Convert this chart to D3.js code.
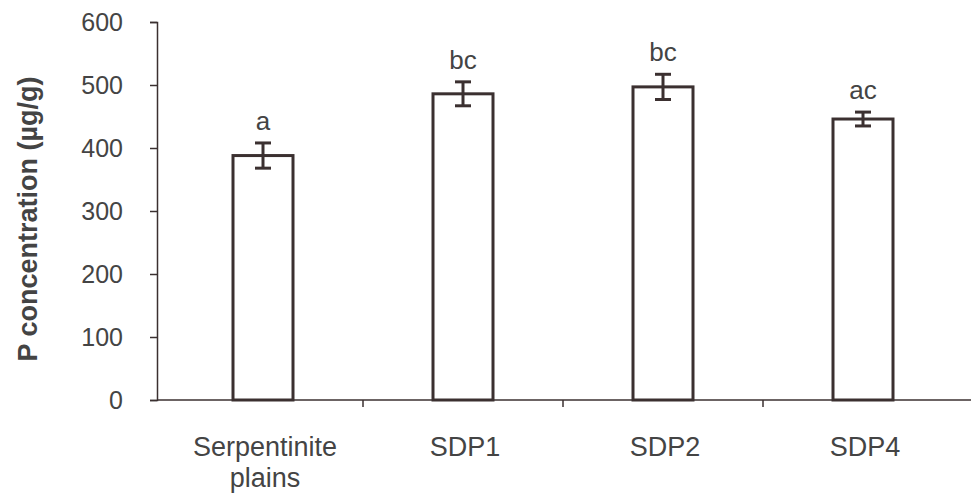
<!DOCTYPE html>
<html><head><meta charset="utf-8">
<script src="https://cdn.jsdelivr.net/npm/d3@7"></script>
<style>body{margin:0;background:#fff}svg{display:block}text{font-family:"Liberation Sans",Arial,sans-serif}</style>
</head><body>
<svg id="c" width="971" height="499"></svg>
<script>
const categories = ["Serpentinite plains", "SDP1", "SDP2", "SDP4"];
const means = [388, 486, 497, 446];
const errors = [20, 19, 20, 11];
const letters = ["a", "bc", "bc", "ac"];
const yTicks = [0, 100, 200, 300, 400, 500, 600];

const svg = d3.select("#c");
const x0 = 157, yTop = 22, yBot = 400;
const ink = "#3b3030", txt = "#444";

const xEdge = d3.scaleBand().domain(categories).range([x0 + 6, x0 + 806]);
const x = d3.scaleBand().domain(categories).range([x0 + 6, x0 + 806]).paddingInner(0.7).paddingOuter(0.35);
const y = d3.scaleLinear().domain([0, 600]).range([yBot, yTop]);

// Y axis
const ya = svg.append("g").attr("transform", `translate(${x0},0)`)
  .call(d3.axisLeft(y).tickValues(yTicks).tickSize(7).tickPadding(27));
ya.select(".domain").attr("stroke", ink).attr("stroke-width", 1.5);
ya.selectAll(".tick line").attr("stroke", ink).attr("stroke-width", 1.5);
ya.selectAll(".tick text").attr("fill", txt).style("font-size", "25px");

// X axis line and boundary ticks
svg.append("line").attr("x1", x0).attr("x2", 971).attr("y1", yBot).attr("y2", yBot)
  .attr("stroke", ink).attr("stroke-width", 1.5);
svg.selectAll(".xt").data(categories.slice(1)).enter().append("line")
  .attr("x1", d => xEdge(d)).attr("x2", d => xEdge(d))
  .attr("y1", yBot).attr("y2", yBot + 7).attr("stroke", ink).attr("stroke-width", 1.5);

// Bars
svg.selectAll(".bar").data(categories).enter().append("rect")
  .attr("x", d => x(d)).attr("width", x.bandwidth())
  .attr("y", (d, i) => y(means[i])).attr("height", (d, i) => yBot - y(means[i]))
  .attr("fill", "#fff").attr("stroke", ink).attr("stroke-width", 3);

// Error bars
const cx = d => x(d) + x.bandwidth() / 2;
const eb = svg.selectAll(".eb").data(categories).enter().append("g");
eb.append("line").attr("x1", cx).attr("x2", cx)
  .attr("y1", (d, i) => y(means[i] + errors[i])).attr("y2", (d, i) => y(means[i] - errors[i]))
  .attr("stroke", ink).attr("stroke-width", 3);
[1, -1].forEach(s => {
  eb.append("line").attr("x1", d => cx(d) - 8).attr("x2", d => cx(d) + 8)
    .attr("y1", (d, i) => y(means[i] + s * errors[i])).attr("y2", (d, i) => y(means[i] + s * errors[i]))
    .attr("stroke", ink).attr("stroke-width", 3);
});

// Letters
svg.selectAll(".lt").data(categories).enter().append("text")
  .attr("x", cx).attr("y", (d, i) => y(means[i] + errors[i]) - 13)
  .attr("text-anchor", "middle").attr("fill", txt).style("font-size", "26px")
  .text((d, i) => letters[i]);

// X labels
svg.selectAll(".xl").data(categories).enter().append("text")
  .attr("text-anchor", "middle").attr("fill", txt).style("font-size", "27px")
  .attr("x", d => xEdge(d) + xEdge.bandwidth() / 2 + 2)
  .attr("y", 456)
  .each(function(d) {
    const words = d === "Serpentinite plains" ? ["Serpentinite", "plains"] : [d];
    const t = d3.select(this);
    words.forEach((w, k) => t.append("tspan").attr("x", t.attr("x")).attr("dy", k ? 31 : 0).text(w));
  });

// Y title
svg.append("text").attr("transform", `translate(37,${(yTop + yBot) / 2 + 8}) rotate(-90)`)
  .attr("text-anchor", "middle").attr("fill", txt).style("font-size", "27px").style("font-weight", "bold")
  .text("P concentration (µg/g)");
</script>
</body></html>
